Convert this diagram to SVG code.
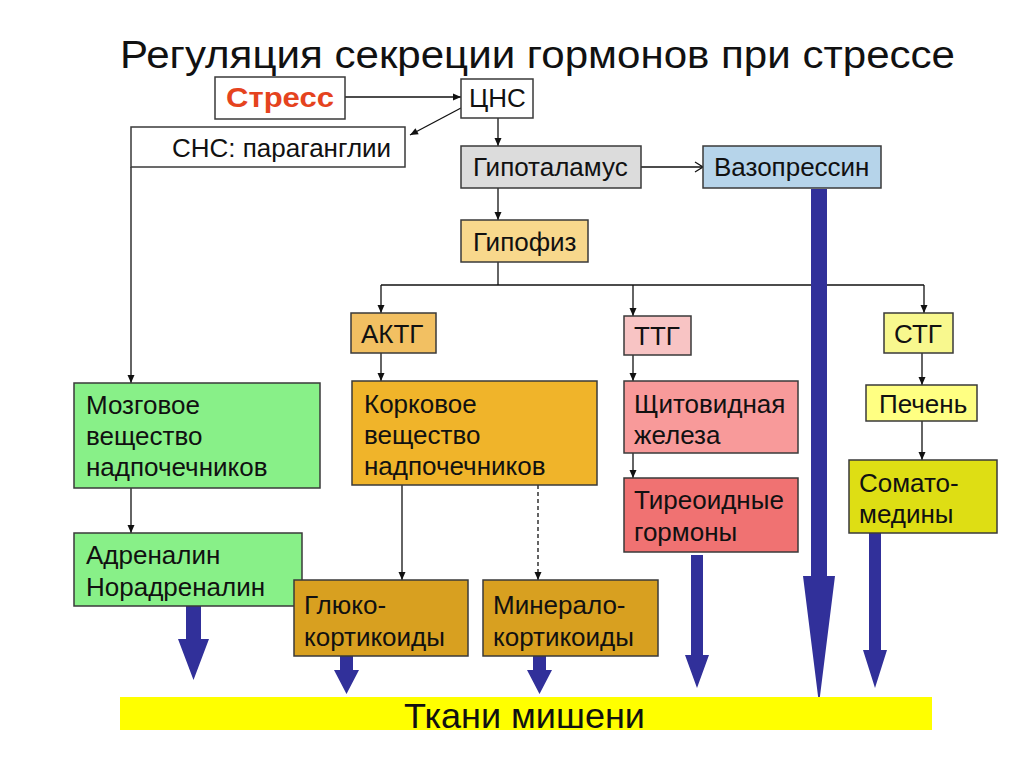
<svg xmlns="http://www.w3.org/2000/svg" width="1024" height="767" viewBox="0 0 1024 767">
<defs>
<marker id="ah" markerWidth="10" markerHeight="10" refX="9" refY="5" orient="auto" markerUnits="userSpaceOnUse">
<path d="M1,1.5 L9,5 L1,8.5 Z" fill="#111"/>
</marker>
<marker id="av" markerWidth="12" markerHeight="12" refX="10" refY="6" orient="auto" markerUnits="userSpaceOnUse">
<path d="M2,1 L10,6 L2,11" fill="none" stroke="#111" stroke-width="1.3"/>
</marker>
<style>
.b{stroke:#3a3a3a;stroke-width:1.5}
.t{font-family:"Liberation Sans",Arial,sans-serif;font-size:26px;fill:#111}
.c{fill:none;stroke:#111;stroke-width:1.3}
.blue{fill:#31309a}
</style>
</defs>
<rect width="1024" height="767" fill="#fff"/>
<text x="120" y="68" class="t" style="font-size:38px" textLength="835" lengthAdjust="spacingAndGlyphs">Регуляция секреции гормонов при стрессе</text>

<g id="connectors">
<line class="c" x1="345" y1="97" x2="461" y2="97" marker-end="url(#ah)"/>
<line class="c" x1="461" y1="108" x2="410" y2="135" marker-end="url(#ah)"/>
<line class="c" x1="498" y1="118" x2="498" y2="146" marker-end="url(#ah)"/>
<line class="c" x1="641" y1="167" x2="703" y2="167" marker-end="url(#av)"/>
<line class="c" x1="498" y1="188" x2="498" y2="220" marker-end="url(#ah)"/>
<polyline class="c" points="131,167 131,383" marker-end="url(#ah)"/>
<line class="c" x1="498" y1="262" x2="498" y2="285"/>
<line class="c" x1="381" y1="285" x2="924" y2="285"/>
<line class="c" x1="381" y1="285" x2="381" y2="313" marker-end="url(#ah)"/>
<line class="c" x1="633" y1="285" x2="633" y2="316" marker-end="url(#ah)"/>
<line class="c" x1="924" y1="285" x2="924" y2="313" marker-end="url(#ah)"/>
<line class="c" x1="381" y1="353" x2="381" y2="381" marker-end="url(#ah)"/>
<line class="c" x1="633" y1="355" x2="633" y2="381" marker-end="url(#ah)"/>
<line class="c" x1="922" y1="353" x2="922" y2="385" marker-end="url(#ah)"/>
<line class="c" x1="633" y1="453" x2="633" y2="478" marker-end="url(#ah)"/>
<line class="c" x1="922" y1="421" x2="922" y2="460" marker-end="url(#ah)"/>
<line class="c" x1="131" y1="488" x2="131" y2="533" marker-end="url(#ah)"/>
<line class="c" x1="402" y1="485" x2="402" y2="580" marker-end="url(#ah)"/>
<line class="c" x1="538" y1="485" x2="538" y2="580" stroke-dasharray="4,3" marker-end="url(#ah)"/>
</g>

<g id="blue-arrows">
<polygon class="blue" points="186,606 201,606 201,639 209,639 193.5,680 178,639 186,639"/>
<polygon class="blue" points="340,656 353,656 353,670 359,670 346.5,694 334,670 340,670"/>
<polygon class="blue" points="533,656 546,656 546,670 552,670 539.5,694 527,670 533,670"/>
<polygon class="blue" points="691,555 703,555 703,655 709,655 697,688 685,655 691,655"/>
<polygon class="blue" points="811,189 827,189 827,576 835,576 819,704 803,576 811,576"/>
<polygon class="blue" points="869,533 881,533 881,650 887,650 875,688 863,650 869,650"/>
</g>

<g id="n-stress"><rect class="b" x="215" y="77" width="130" height="42" fill="#fff"/><text x="226" y="107" class="t" style="font-weight:bold;fill:#e5431e;font-size:28px" textLength="108" lengthAdjust="spacingAndGlyphs">Стресс</text></g>
<g id="n-cns"><rect class="b" x="461" y="79" width="72" height="39" fill="#fff"/><text x="469" y="107" class="t">ЦНС</text></g>
<g id="n-sns"><rect class="b" x="131" y="127" width="274" height="40" fill="#fff"/><text x="172" y="157" class="t">СНС: параганглии</text></g>
<g id="n-hypothal"><rect class="b" x="461" y="146" width="180" height="42" fill="#dcdcdc"/><text x="473" y="176" class="t">Гипоталамус</text></g>
<g id="n-vaso"><rect class="b" x="703" y="146" width="178" height="42" fill="#b6d4ea"/><text x="714" y="176" class="t">Вазопрессин</text></g>
<g id="n-hypoph"><rect class="b" x="461" y="220" width="127" height="42" fill="#f8d88c"/><text x="473" y="251" class="t">Гипофиз</text></g>
<g id="n-actg"><rect class="b" x="351" y="313" width="85" height="40" fill="#f2c062"/><text x="361" y="343" class="t">АКТГ</text></g>
<g id="n-ttg"><rect class="b" x="624" y="316" width="67" height="39" fill="#f8c4c4"/><text x="634" y="345" class="t">ТТГ</text></g>
<g id="n-stg"><rect class="b" x="884" y="313" width="69" height="40" fill="#f8f88e"/><text x="894" y="343" class="t">СТГ</text></g>
<g id="n-medulla"><rect class="b" x="74" y="383" width="246" height="105" fill="#88f088"/><text class="t"><tspan x="86" y="414">Мозговое</tspan><tspan x="86" y="445">вещество</tspan><tspan x="86" y="476">надпочечников</tspan></text></g>
<g id="n-cortex"><rect class="b" x="352" y="381" width="245" height="104" fill="#f0b42a"/><text class="t"><tspan x="364" y="413">Корковое</tspan><tspan x="364" y="444">вещество</tspan><tspan x="364" y="475">надпочечников</tspan></text></g>
<g id="n-thyroid"><rect class="b" x="624" y="381" width="174" height="72" fill="#f89a9a"/><text class="t"><tspan x="634" y="413">Щитовидная</tspan><tspan x="634" y="444">железа</tspan></text></g>
<g id="n-thyroidh"><rect class="b" x="624" y="478" width="174" height="74" fill="#f07272"/><text class="t"><tspan x="634" y="509">Тиреоидные</tspan><tspan x="634" y="541">гормоны</tspan></text></g>
<g id="n-liver"><rect class="b" x="866" y="385" width="111" height="36" fill="#ffff82"/><text x="879" y="413" class="t">Печень</text></g>
<g id="n-somato"><rect class="b" x="849" y="460" width="148" height="73" fill="#dede14"/><text class="t"><tspan x="859" y="492">Сомато-</tspan><tspan x="859" y="523">медины</tspan></text></g>
<g id="n-adren"><rect class="b" x="74" y="533" width="228" height="73" fill="#88f088"/><text class="t"><tspan x="86" y="564">Адреналин</tspan><tspan x="86" y="596">Норадреналин</tspan></text></g>
<g id="n-gluco"><rect class="b" x="294" y="580" width="174" height="76" fill="#d8a020"/><text class="t"><tspan x="304" y="614">Глюко-</tspan><tspan x="304" y="646">кортикоиды</tspan></text></g>
<g id="n-mineral"><rect class="b" x="483" y="580" width="175" height="76" fill="#d8a020"/><text class="t"><tspan x="493" y="614">Минерало-</tspan><tspan x="493" y="646">кортикоиды</tspan></text></g>
<g id="n-target"><rect x="120" y="697" width="812" height="33" fill="#ffff00"/><text x="404" y="728" class="t" style="font-size:35px" textLength="241" lengthAdjust="spacingAndGlyphs">Ткани мишени</text></g>
</svg>
